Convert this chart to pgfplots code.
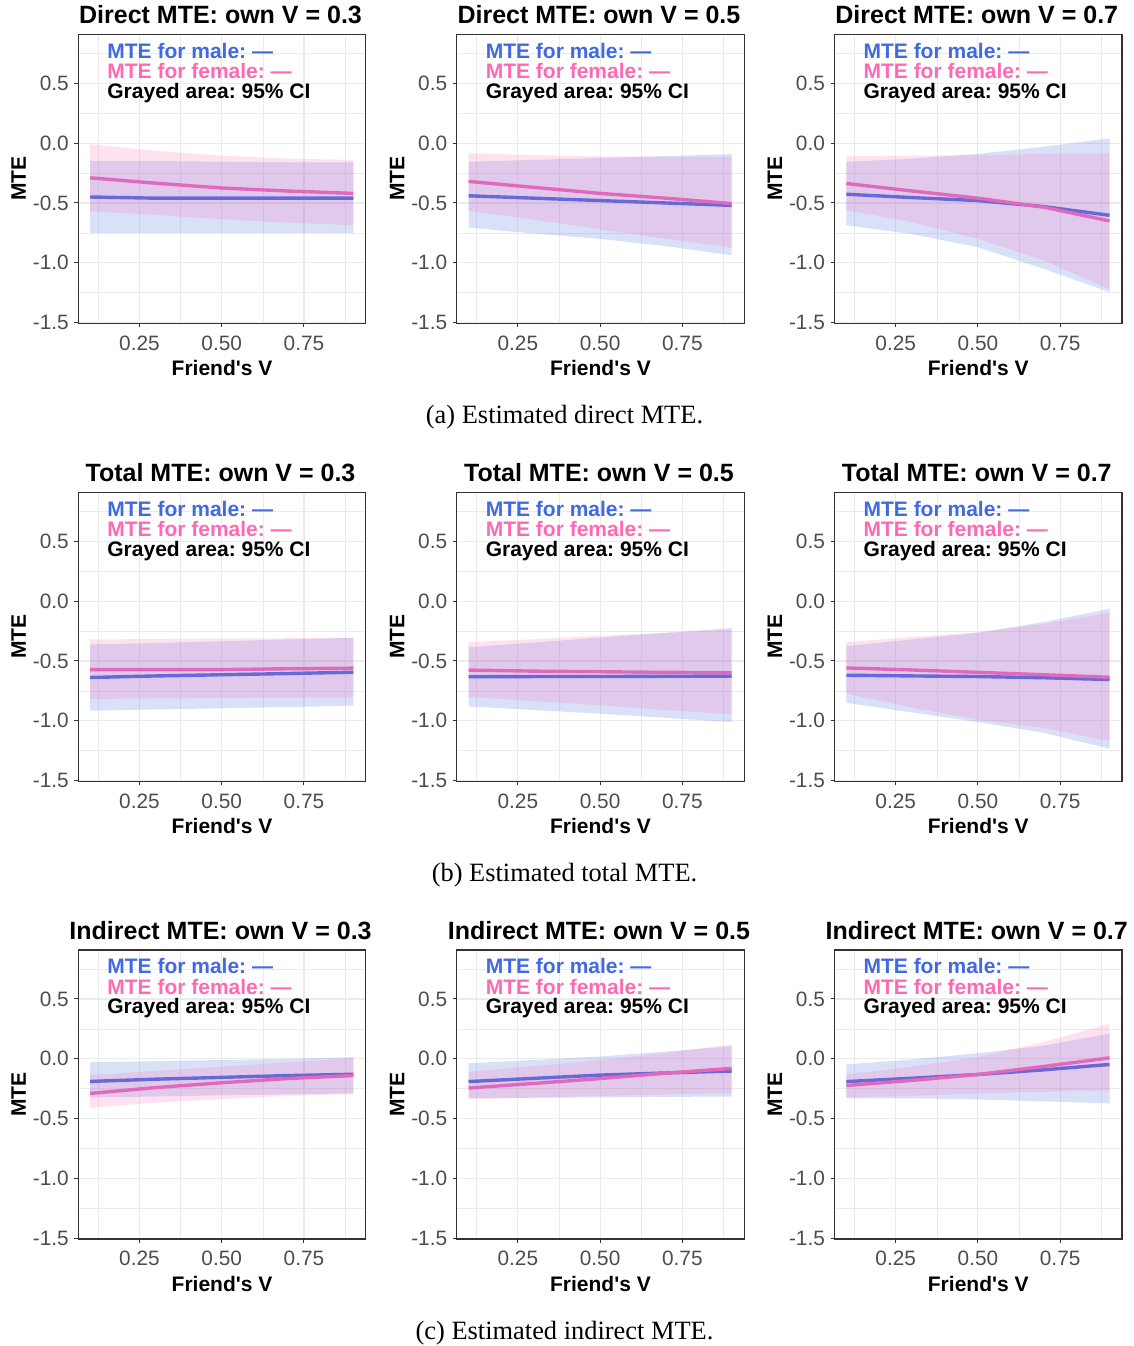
\documentclass[border=0pt]{standalone}
\usepackage{fontspec}
\setmainfont{Liberation Serif}
\newfontfamily\arial{Liberation Sans}
\usepackage{pgfplots}
\pgfplotsset{compat=1.18}
\frenchspacing

\definecolor{royalblue}{RGB}{65,105,225}
\definecolor{hotpink}{RGB}{255,105,180}
\definecolor{grid92}{gray}{0.92}
\definecolor{gray20}{gray}{0.2}
\definecolor{gray30}{gray}{0.3}

\newcommand{\legfont}{\arial\bfseries\fontsize{10.5}{12}\selectfont}
\newcommand{\titfont}{\arial\bfseries\fontsize{12.5}{14}\selectfont}

\pgfplotsset{mte/.style={
  scale only axis, width=143.75pt, height=144.5pt,
  xmin=0.064, xmax=0.938, ymin=-1.505, ymax=0.909,
  xtick={0.25,0.5,0.75}, xticklabels={0.25,0.50,0.75},
  ytick={-1.5,-1,-0.5,0,0.5}, yticklabels={-1.5,-1.0,-0.5,0.0,0.5},
  minor xtick={0.125,0.375,0.625,0.875},
  minor ytick={-1.25,-0.75,-0.25,0.25,0.75},
  grid=both,
  major grid style={grid92, line width=0.55pt},
  minor grid style={grid92, line width=0.3pt},
  tick align=outside, major tick length=2pt, minor tick length=0pt,
  xtick pos=bottom, ytick pos=left,
  tick style={gray20, line width=0.5pt},
  axis line style={gray20, line width=0.55pt},
  ticklabel style={font=\arial\fontsize{10.4}{12}\selectfont, text=gray30},
  xticklabel style={anchor=north, inner sep=0pt, yshift=-3.9pt},
  yticklabel style={anchor=east, inner sep=0pt, xshift=-2.6pt},
  clip=false,
}}

% #1 position, #2 title, #3 male line, #4 female line, #5 male band, #6 female band
\newcommand{\mtepanel}[6]{%
  \begin{axis}[mte, at={#1}, anchor=north west]
    \addplot[royalblue, line width=1.7pt] coordinates {#3};
    \addplot[hotpink, line width=1.7pt] coordinates {#4};
    \addplot[draw=none, fill=royalblue, fill opacity=0.2] coordinates {#5};
    \addplot[draw=none, fill=hotpink, fill opacity=0.2] coordinates {#6};
    \node[anchor=base, font=\titfont] at ([xshift=-0.75pt,yshift=5.25pt]rel axis cs:0.5,1) {#2};
    \node[anchor=base west, inner sep=0pt, font=\legfont, text=royalblue] at ([xshift=14.35pt,yshift=-12pt]rel axis cs:0,1) {MTE for male: —};
    \node[anchor=base west, inner sep=0pt, font=\legfont, text=hotpink] at ([xshift=14.35pt,yshift=-22.35pt]rel axis cs:0,1) {MTE for female: —};
    \node[anchor=base west, inner sep=0pt, font=\legfont, text=black] at ([xshift=14.35pt,yshift=-32pt]rel axis cs:0,1) {Grayed area: 95\% CI};
    \node[anchor=base, font=\legfont] at ([yshift=-26.35pt]rel axis cs:0.5,0) {Friend\textquotesingle s V};
    \node[anchor=base, rotate=90, font=\legfont] at ([xshift=-26.2pt]rel axis cs:0,0.5) {MTE};
  \end{axis}}

\begin{document}
\begin{tikzpicture}
% ---- (a) direct
\mtepanel{(39.15pt,655.85pt)}{Direct MTE: own V = 0.3}
 {(0.1,-0.45)(0.3,-0.46)(0.5,-0.46)(0.7,-0.46)(0.9,-0.46)}
 {(0.1,-0.29)(0.3,-0.335)(0.5,-0.375)(0.7,-0.40)(0.9,-0.42)}
 {(0.1,-0.15)(0.3,-0.15)(0.5,-0.155)(0.7,-0.16)(0.9,-0.16)(0.9,-0.75)(0.7,-0.75)(0.5,-0.75)(0.3,-0.75)(0.1,-0.75)}
 {(0.1,-0.01)(0.3,-0.065)(0.5,-0.105)(0.7,-0.13)(0.9,-0.14)(0.9,-0.685)(0.7,-0.665)(0.5,-0.636)(0.3,-0.60)(0.1,-0.57)}
\mtepanel{(228.35pt,655.85pt)}{Direct MTE: own V = 0.5}
 {(0.1,-0.44)(0.3,-0.46)(0.5,-0.48)(0.7,-0.50)(0.9,-0.52)}
 {(0.1,-0.32)(0.3,-0.37)(0.5,-0.42)(0.7,-0.46)(0.9,-0.505)}
 {(0.1,-0.156)(0.3,-0.14)(0.5,-0.124)(0.7,-0.108)(0.9,-0.092)(0.9,-0.937)(0.7,-0.86)(0.5,-0.80)(0.3,-0.755)(0.1,-0.706)}
 {(0.1,-0.084)(0.3,-0.10)(0.5,-0.11)(0.7,-0.115)(0.9,-0.115)(0.9,-0.873)(0.7,-0.80)(0.5,-0.72)(0.3,-0.64)(0.1,-0.566)}
\mtepanel{(417.25pt,655.85pt)}{Direct MTE: own V = 0.7}
 {(0.1,-0.427)(0.3,-0.455)(0.5,-0.48)(0.7,-0.53)(0.9,-0.603)}
 {(0.1,-0.337)(0.3,-0.40)(0.5,-0.46)(0.7,-0.535)(0.9,-0.65)}
 {(0.1,-0.156)(0.3,-0.13)(0.5,-0.09)(0.7,-0.03)(0.9,0.04)(0.9,-1.245)(0.7,-1.05)(0.5,-0.87)(0.3,-0.76)(0.1,-0.686)}
 {(0.1,-0.11)(0.3,-0.105)(0.5,-0.10)(0.7,-0.09)(0.9,-0.084)(0.9,-1.22)(0.7,-0.98)(0.5,-0.80)(0.3,-0.66)(0.1,-0.56)}
% ---- (b) total
\mtepanel{(39.15pt,426.85pt)}{Total MTE: own V = 0.3}
 {(0.1,-0.638)(0.3,-0.625)(0.5,-0.615)(0.7,-0.605)(0.9,-0.594)}
 {(0.1,-0.572)(0.3,-0.572)(0.5,-0.572)(0.7,-0.565)(0.9,-0.56)}
 {(0.1,-0.362)(0.3,-0.35)(0.5,-0.335)(0.7,-0.32)(0.9,-0.307)(0.9,-0.873)(0.7,-0.885)(0.5,-0.895)(0.3,-0.905)(0.1,-0.915)}
 {(0.1,-0.32)(0.3,-0.317)(0.5,-0.313)(0.7,-0.31)(0.9,-0.307)(0.9,-0.805)(0.7,-0.808)(0.5,-0.81)(0.3,-0.813)(0.1,-0.817)}
\mtepanel{(228.35pt,426.85pt)}{Total MTE: own V = 0.5}
 {(0.1,-0.632)(0.3,-0.63)(0.5,-0.63)(0.7,-0.628)(0.9,-0.626)}
 {(0.1,-0.576)(0.3,-0.585)(0.5,-0.59)(0.7,-0.595)(0.9,-0.598)}
 {(0.1,-0.385)(0.3,-0.345)(0.5,-0.305)(0.7,-0.265)(0.9,-0.225)(0.9,-1.01)(0.7,-0.975)(0.5,-0.94)(0.3,-0.91)(0.1,-0.879)}
 {(0.1,-0.343)(0.3,-0.318)(0.5,-0.29)(0.7,-0.265)(0.9,-0.239)(0.9,-0.947)(0.7,-0.91)(0.5,-0.87)(0.3,-0.835)(0.1,-0.80)}
\mtepanel{(417.25pt,426.85pt)}{Total MTE: own V = 0.7}
 {(0.1,-0.619)(0.3,-0.625)(0.5,-0.63)(0.7,-0.64)(0.9,-0.655)}
 {(0.1,-0.558)(0.3,-0.575)(0.5,-0.595)(0.7,-0.615)(0.9,-0.636)}
 {(0.1,-0.376)(0.3,-0.32)(0.5,-0.265)(0.7,-0.175)(0.9,-0.064)(0.9,-1.232)(0.7,-1.10)(0.5,-1.01)(0.3,-0.93)(0.1,-0.85)}
 {(0.1,-0.343)(0.3,-0.30)(0.5,-0.26)(0.7,-0.19)(0.9,-0.097)(0.9,-1.17)(0.7,-1.06)(0.5,-0.99)(0.3,-0.89)(0.1,-0.772)}
% ---- (c) indirect
\mtepanel{(39.15pt,198pt)}{Indirect MTE: own V = 0.3}
 {(0.1,-0.189)(0.3,-0.17)(0.5,-0.155)(0.7,-0.14)(0.9,-0.129)}
 {(0.1,-0.289)(0.3,-0.24)(0.5,-0.20)(0.7,-0.165)(0.9,-0.14)}
 {(0.1,-0.029)(0.3,-0.02)(0.5,-0.01)(0.7,0.0)(0.9,0.014)(0.9,-0.289)(0.7,-0.297)(0.5,-0.305)(0.3,-0.315)(0.1,-0.323)}
 {(0.1,-0.137)(0.3,-0.10)(0.5,-0.065)(0.7,-0.03)(0.9,0.006)(0.9,-0.294)(0.7,-0.31)(0.5,-0.337)(0.3,-0.365)(0.1,-0.409)}
\mtepanel{(228.35pt,198pt)}{Indirect MTE: own V = 0.5}
 {(0.1,-0.19)(0.3,-0.163)(0.5,-0.136)(0.7,-0.118)(0.9,-0.102)}
 {(0.1,-0.244)(0.3,-0.205)(0.5,-0.165)(0.7,-0.12)(0.9,-0.08)}
 {(0.1,-0.037)(0.3,-0.01)(0.5,0.02)(0.7,0.06)(0.9,0.105)(0.9,-0.315)(0.7,-0.318)(0.5,-0.322)(0.3,-0.325)(0.1,-0.327)}
 {(0.1,-0.108)(0.3,-0.06)(0.5,-0.01)(0.7,0.05)(0.9,0.12)(0.9,-0.287)(0.7,-0.298)(0.5,-0.31)(0.3,-0.325)(0.1,-0.338)}
\mtepanel{(417.25pt,198pt)}{Indirect MTE: own V = 0.7}
 {(0.1,-0.19)(0.3,-0.162)(0.5,-0.131)(0.7,-0.092)(0.9,-0.047)}
 {(0.1,-0.223)(0.3,-0.18)(0.5,-0.131)(0.7,-0.064)(0.9,0.008)}
 {(0.1,-0.047)(0.3,-0.005)(0.5,0.047)(0.7,0.11)(0.9,0.21)(0.9,-0.372)(0.7,-0.355)(0.5,-0.34)(0.3,-0.33)(0.1,-0.33)}
 {(0.1,-0.131)(0.3,-0.065)(0.5,0.014)(0.7,0.14)(0.9,0.293)(0.9,-0.265)(0.7,-0.275)(0.5,-0.29)(0.3,-0.31)(0.1,-0.321)}
% ---- captions
\node[anchor=base, font=\fontsize{13.2}{15}\selectfont] at (282.25pt,461.15pt) {(a) Estimated direct MTE.};
\node[anchor=base, font=\fontsize{13.2}{15}\selectfont] at (282.25pt,232.15pt) {(b) Estimated total MTE.};
\node[anchor=base, font=\fontsize{13.2}{15}\selectfont] at (282.25pt,3.15pt) {(c) Estimated indirect MTE.};
\pgfresetboundingbox
\useasboundingbox (0,0) rectangle (567pt,673pt);
\end{tikzpicture}
\end{document}
